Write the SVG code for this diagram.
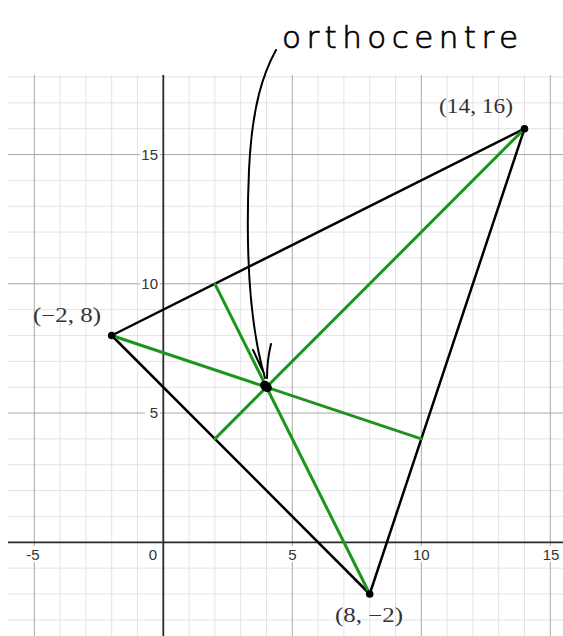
<svg xmlns="http://www.w3.org/2000/svg" width="563" height="636" viewBox="0 0 563 636">
<style>
.minor{stroke:#e3e3e3;stroke-width:1;fill:none}
.major{stroke:#a8a8a8;stroke-width:1;fill:none}
.axis{stroke:#2a2a2a;stroke-width:1.8;fill:none}
.tick{font-family:"Liberation Sans",Arial,sans-serif;font-size:15px;fill:#333}
.bg{fill:#fff}
.side{stroke:#000;stroke-width:2.5;fill:none;stroke-linecap:round}
.alt{stroke:#1b961b;stroke-width:3;fill:none;stroke-linecap:round}
.pt{fill:#000}
.plabel{font-family:"Liberation Serif","DejaVu Serif",serif;font-size:20px;fill:#333}
.hand{stroke:#000;stroke-width:2;fill:none;stroke-linecap:round;stroke-linejoin:round}
</style>
<defs>
<clipPath id="gridclip"><rect x="8" y="75" width="555" height="561"/></clipPath>
</defs>
<rect x="0" y="0" width="563" height="636" fill="#fff"/>
<g id="grid" clip-path="url(#gridclip)">
<g class="minor">
<path d="M60.1 75V636M85.9 75V636M111.7 75V636M137.5 75V636M189.1 75V636M214.9 75V636M240.7 75V636M266.5 75V636M318.1 75V636M343.9 75V636M369.7 75V636M395.5 75V636M447.1 75V636M472.9 75V636M498.7 75V636M524.5 75V636"/>
<path d="M8 77H563M8 102.85H563M8 128.7H563M8 180.4H563M8 206.25H563M8 232.1H563M8 257.95H563M8 309.65H563M8 335.5H563M8 361.35H563M8 387.2H563M8 438.9H563M8 464.75H563M8 490.6H563M8 516.45H563M8 568.15H563M8 594H563M8 619.85H563"/>
</g>
<g class="major">
<path d="M34.3 75V636M292.3 75V636M421.3 75V636M550.3 75V636"/>
<path d="M8 154.55H563M8 283.8H563M8 413.05H563"/>
</g>
<g class="axis">
<path d="M8 542.3H563"/>
<path d="M163.3 75V636"/>
</g>
</g>
<g id="ticklabels">
<rect class="bg" x="140" y="146" width="20" height="17"/>
<rect class="bg" x="140" y="275" width="20" height="17"/>
<rect class="bg" x="145" y="404" width="15" height="17"/>
<rect class="bg" x="24" y="546" width="19" height="16"/>
<rect class="bg" x="147" y="546" width="12" height="16"/>
<rect class="bg" x="286" y="546" width="13" height="16"/>
<rect class="bg" x="410" y="546" width="23" height="16"/>
<rect class="bg" x="539" y="546" width="23" height="16"/>
<text class="tick" x="158" y="159.8" text-anchor="end">15</text>
<text class="tick" x="158" y="289" text-anchor="end">10</text>
<text class="tick" x="158" y="418.3" text-anchor="end">5</text>
<text class="tick" x="33" y="559.5" text-anchor="middle">-5</text>
<text class="tick" x="157" y="559.5" text-anchor="end">0</text>
<text class="tick" x="292.3" y="559.5" text-anchor="middle">5</text>
<text class="tick" x="421.3" y="559.5" text-anchor="middle">10</text>
<text class="tick" x="551" y="559.5" text-anchor="middle">15</text>
</g>
<g id="connectors">
<path id="sideAB" class="side" d="M111.7 335.5L524.5 128.7"/>
<path id="sideBC" class="side" d="M524.5 128.7L369.7 594"/>
<path id="sideCA" class="side" d="M369.7 594L111.7 335.5"/>
<path id="altA" class="alt" d="M111.7 335.5L421.3 438.9"/>
<path id="altB" class="alt" d="M524.5 128.7L214.9 438.9"/>
<path id="altC" class="alt" d="M369.7 594L214.9 283.8"/>
<path id="arrow" class="hand" d="M276 50C264 72 252 104 249 170C246 240 248 320 265 378M253 350C257 358 260 366 264 373M271 344C268 356 267 366 267 378"/>
</g>
<g id="nodeA">
<circle class="pt" cx="111.7" cy="335.5" r="3.8"/>
<text class="plabel" x="67" y="321.7" text-anchor="middle" textLength="68" lengthAdjust="spacingAndGlyphs">(−2, 8)</text>
</g>
<g id="nodeB">
<circle class="pt" cx="524.5" cy="128.7" r="3.8"/>
<text class="plabel" x="476" y="113.3" text-anchor="middle" textLength="74" lengthAdjust="spacingAndGlyphs">(14, 16)</text>
</g>
<g id="nodeC">
<circle class="pt" cx="369.7" cy="594" r="3.8"/>
<text class="plabel" x="369" y="621.7" text-anchor="middle" textLength="68" lengthAdjust="spacingAndGlyphs">(8, −2)</text>
</g>
<g id="orthocentre">
<ellipse class="pt" cx="266" cy="386.5" rx="6.5" ry="5" transform="rotate(40 266 386.5)"/>
<text x="282" y="48" font-family="'DejaVu Sans',sans-serif" font-weight="200" font-size="31" fill="#000" stroke="#000" stroke-width="0.7" textLength="236" lengthAdjust="spacing">orthocentre</text>
</g>
</svg>
